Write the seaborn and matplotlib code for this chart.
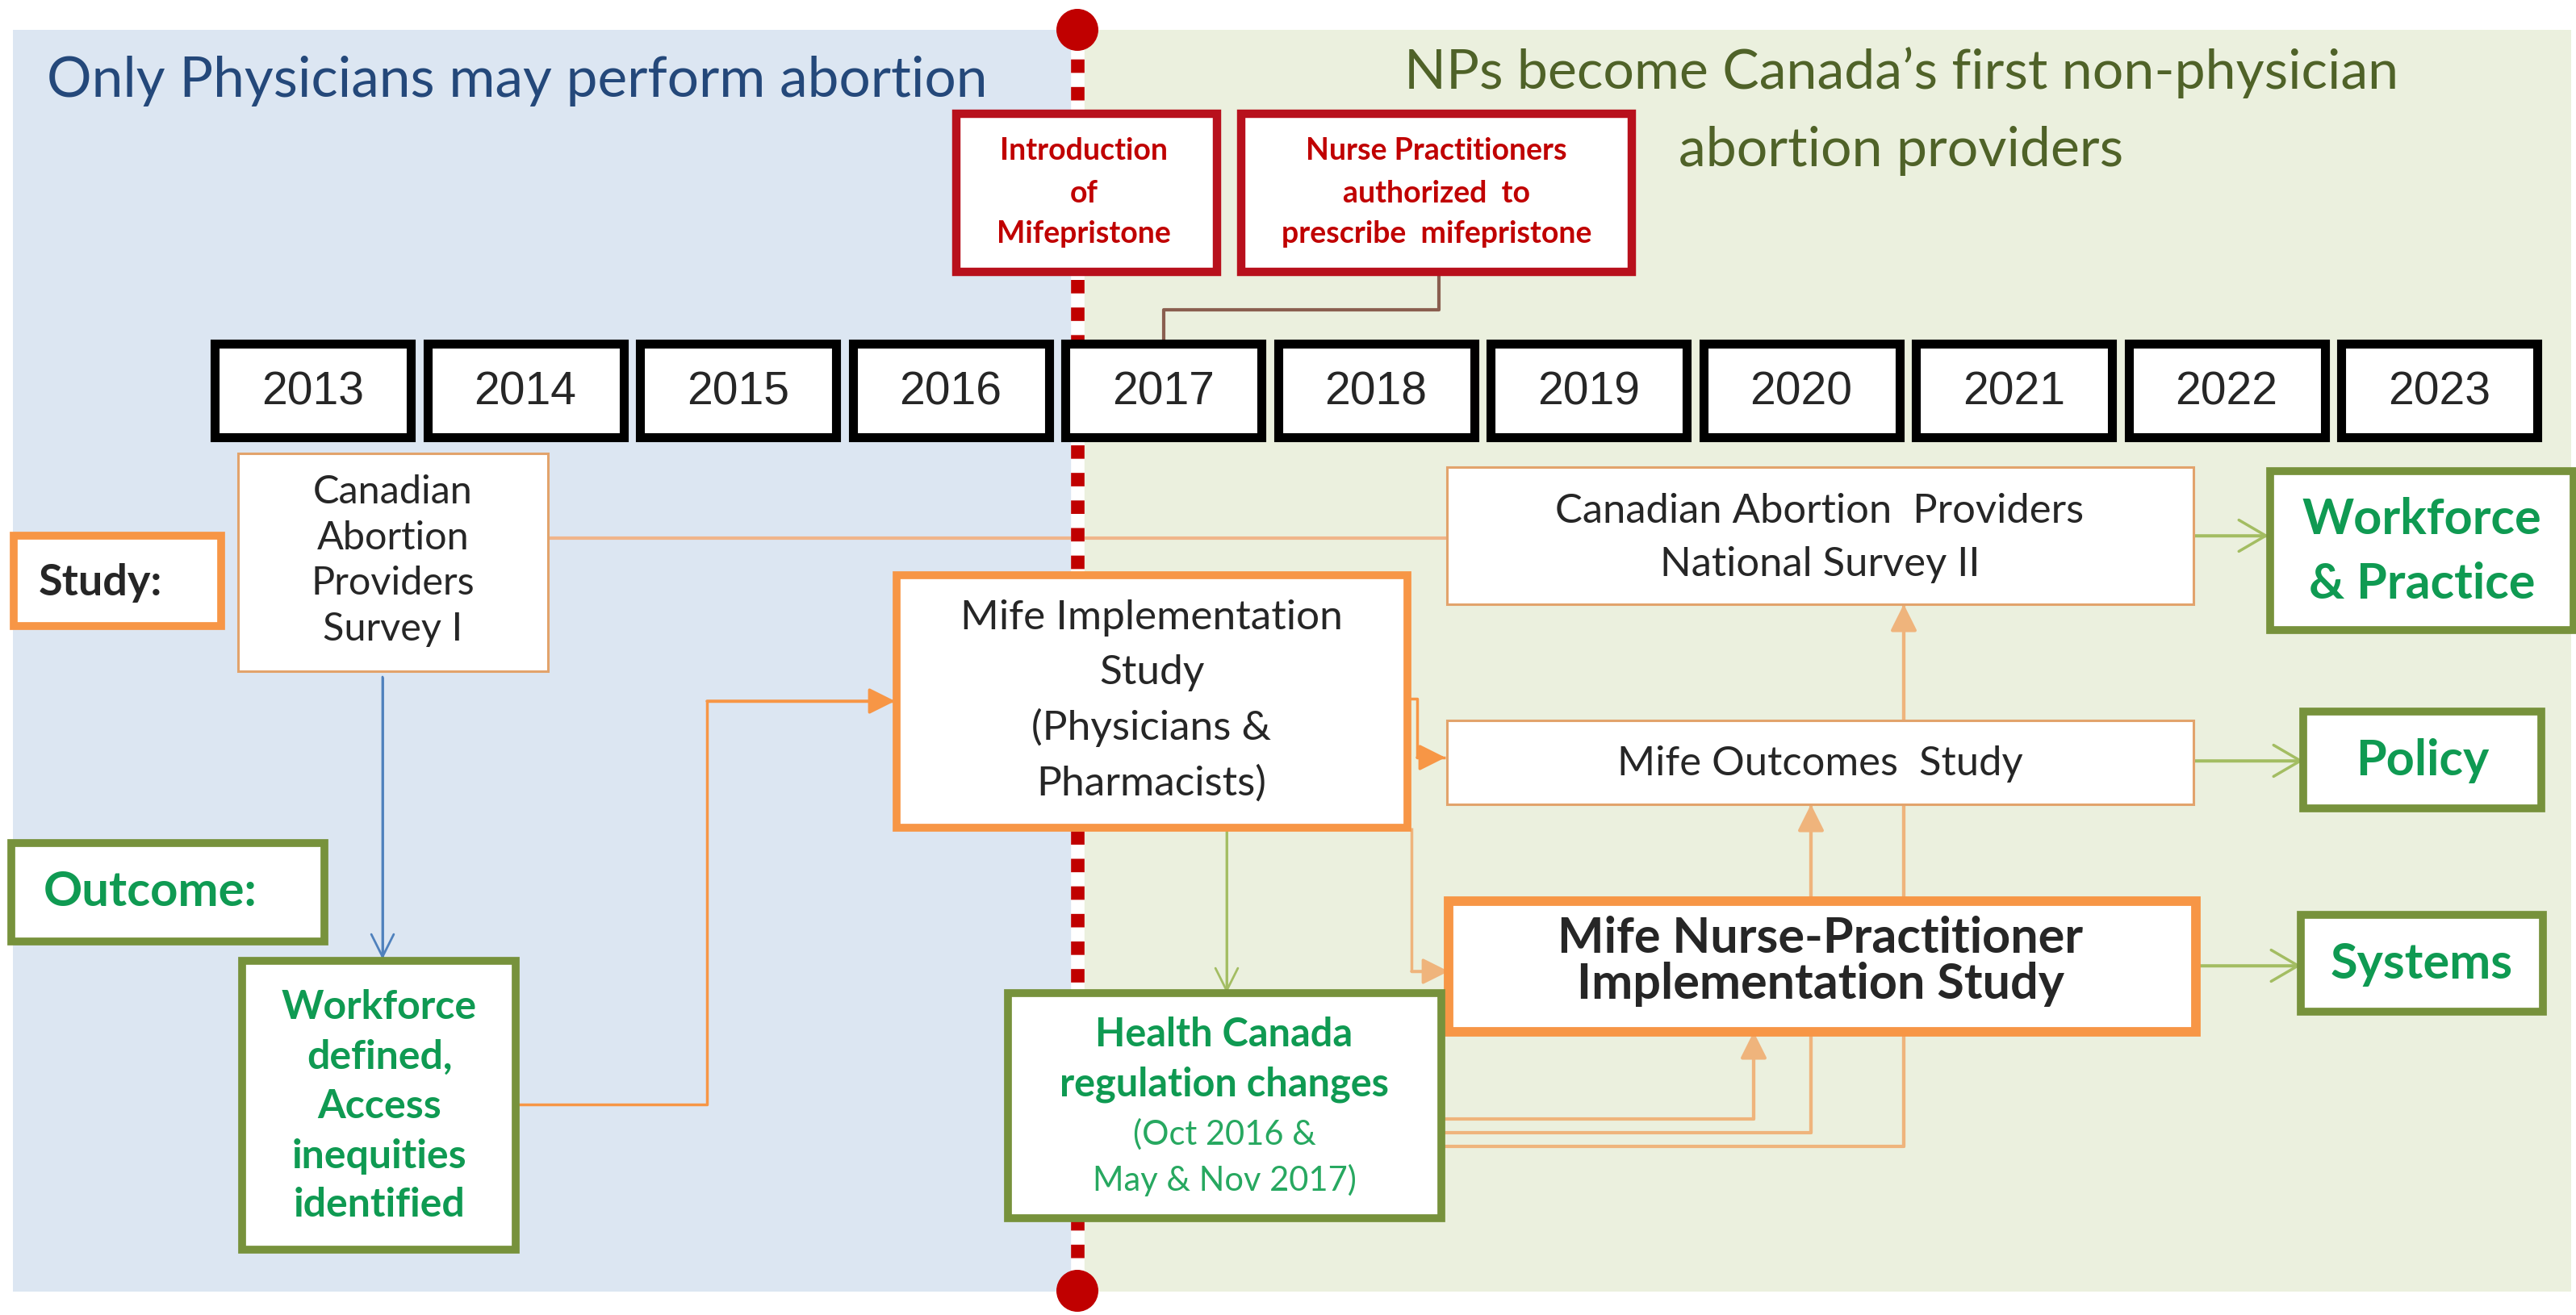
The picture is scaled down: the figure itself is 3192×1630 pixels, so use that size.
import matplotlib
matplotlib.use("Agg")
import matplotlib.pyplot as plt
import seaborn as sns
from matplotlib.patches import Rectangle, Circle

# data: timeline years and the text of every box
years = [2013, 2014, 2015, 2016, 2017, 2018, 2019, 2020, 2021, 2022, 2023]
left_title = "Only Physicians may perform abortion"
right_title = ["NPs become Canada\u2019s first non-physician", "abortion providers"]
event_intro = ["Introduction", "of", "Mifepristone"]
event_np = ["Nurse Practitioners", "authorized  to", "prescribe  mifepristone"]
survey1 = ["Canadian", "Abortion", "Providers", "Survey I"]
survey2 = ["Canadian Abortion  Providers", "National Survey II"]
mife_impl = ["Mife Implementation", "Study", "(Physicians &", "Pharmacists)"]
mife_out = ["Mife Outcomes  Study"]
mife_np = ["Mife Nurse-Practitioner", "Implementation Study"]
workforce_out = ["Workforce", "defined,", "Access", "inequities", "identified"]
health_bold = ["Health Canada", "regulation changes"]
health_dates = ["(Oct 2016 &", "May & Nov 2017)"]
outcomes_right = [["Workforce", "& Practice"], ["Policy"], ["Systems"]]

sns.set_theme(style="white")
plt.rcParams["font.family"] = ["Lato", "DejaVu Sans"]

BLUE_BG = "#dce6f2"
GREEN_BG = "#ebf0de"
RED = "#b8101c"
ORANGE = "#f79646"
ORANGE_THIN = "#e2a36c"
OLIVE = "#77923c"
GREEN_TXT = "#0f9a52"
GREEN_ARROW = "#a3bd62"

fig = plt.figure(figsize=(31.92, 16.31), dpi=100)
ax = fig.add_axes([0, 0, 1, 1])
ax.set_xlim(0, 3192)
ax.set_ylim(1631, 0)
ax.axis("off")


def box(x0, y0, x1, y1, ec, lw, z=3):
    ax.add_patch(Rectangle((x0, y0), x1 - x0, y1 - y0, fc="white", ec=ec,
                           lw=lw, zorder=z, joinstyle="miter"))


def lines(cx, ys, texts, **kw):
    for y, t in zip(ys, texts):
        ax.text(cx, y, t, ha="center", va="center", zorder=5, **kw)


def path(pts, color, lw, head=None, ms=40):
    xs = [p[0] for p in pts]
    ys = [p[1] for p in pts]
    ax.plot(xs, ys, color=color, lw=lw, zorder=1, solid_capstyle="butt")
    if head:
        ax.annotate("", xy=pts[-1], xytext=pts[-2], zorder=2,
                    arrowprops=dict(arrowstyle=head, color=color, lw=lw,
                                    mutation_scale=ms, shrinkA=0, shrinkB=0))


# backgrounds
ax.add_patch(Rectangle((16, 38), 1335 - 16, 1602 - 38, fc=BLUE_BG, ec="none", zorder=0))
ax.add_patch(Rectangle((1335, 38), 3186 - 1335, 1602 - 38, fc=GREEN_BG, ec="none", zorder=0))

ax.text(58, 100, left_title, color="#24487a", fontsize=50,
        ha="left", va="center")
lines(2356, [90, 187], right_title, color="#4f6228", fontsize=49)

# red dashed divider with end dots
ax.plot([1335, 1335], [40, 1600], color="white", lw=12, zorder=1.5)
ax.plot([1335, 1335], [40, 1600], color="#c00000", lw=12, zorder=1.6,
        linestyle=(0, (1.0, 1.05)), dash_capstyle="butt")
for yc in [38, 1601]:
    ax.add_patch(Circle((1335, yc), 26, fc="#c00000", ec="none", zorder=6))

# events
box(1185, 142, 1508, 338, RED, 7.5)
lines(1343, [187, 240, 290], event_intro, color="#c00000", fontsize=27, fontweight="bold")
box(1538, 142, 2022, 338, RED, 7.5)
lines(1780, [187, 240, 290], event_np, color="#c00000", fontsize=27, fontweight="bold")
path([(1783, 338), (1783, 385), (1442, 385), (1442, 427)], "#8a5f50", 3)

# year row
x_start, pitch, width = 266, 263.5, 243
for i, yr in enumerate(years):
    x0 = x_start + i * pitch
    box(x0, 427, x0 + width, 543, "black", 8)
    ax.text(x0 + width / 2, 487, str(yr), ha="center", va="center",
            fontsize=41, family="Liberation Sans", zorder=5)

# row labels
box(17, 665, 274, 777, ORANGE, 7)
ax.text(48, 723, "Study:", fontsize=39, fontweight="bold", ha="left", va="center", zorder=5)
box(14, 1046, 402, 1168, OLIVE, 7)
ax.text(54, 1106, "Outcome:", fontsize=43, fontweight="bold", color=GREEN_TXT,
        ha="left", va="center", zorder=5)

# connectors (drawn under the boxes)
path([(474, 840), (474, 1190)], "#4f81bd", 2, head="->,head_length=0.5,head_width=0.25")
path([(639, 1370), (876, 1370), (876, 870), (1109, 870)], ORANGE, 2.5,
     head="-|>,head_length=0.5,head_width=0.25")
path([(679, 668), (1793, 668)], "#f0b58a", 3)
path([(1744, 867), (1756, 867), (1756, 940), (1791, 940)], ORANGE, 2.5,
     head="-|>,head_length=0.5,head_width=0.25")
path([(1749, 1027), (1749, 1205), (1795, 1205)], "#efb47c", 2.5,
     head="-|>,head_length=0.5,head_width=0.25")
path([(1520, 1027), (1520, 1232)], GREEN_ARROW, 2, head="->,head_length=0.5,head_width=0.25")
path([(1786, 1388), (2173, 1388), (2173, 1280)], "#efb47c", 3,
     head="-|>,head_length=0.5,head_width=0.25")
path([(1786, 1405), (2244, 1405), (2244, 998)], "#efb47c", 3,
     head="-|>,head_length=0.5,head_width=0.25")
path([(1786, 1422), (2359, 1422), (2359, 750)], "#efb47c", 3,
     head="-|>,head_length=0.5,head_width=0.25")
path([(2718, 665), (2811, 665)], GREEN_ARROW, 2.5, head="->,head_length=0.6,head_width=0.35")
path([(2718, 944), (2854, 944)], GREEN_ARROW, 2.5, head="->,head_length=0.6,head_width=0.35")
path([(2721, 1198), (2851, 1198)], GREEN_ARROW, 2.5, head="->,head_length=0.6,head_width=0.35")

# study boxes
box(295, 563, 679, 833, ORANGE_THIN, 2.2)
lines(487, [610, 667, 723, 780], survey1, fontsize=35)
box(1111, 714, 1744, 1027, ORANGE, 7)
lines(1427, [766, 834, 902, 971], mife_impl, fontsize=37)
box(1793, 580, 2718, 750, ORANGE_THIN, 2.2)
lines(2255, [634, 700], survey2, fontsize=36.5)
box(1793, 894, 2718, 998, ORANGE_THIN, 2.2)
lines(2255, [947], mife_out, fontsize=36.5)
box(1795, 1118, 2721, 1280, ORANGE, 8.5)
lines(2256, [1163, 1220], mife_np, fontsize=44, fontweight="bold")

# outcome boxes
box(300, 1192, 639, 1550, OLIVE, 7)
lines(470, [1249, 1310, 1372, 1434, 1494], workforce_out, color=GREEN_TXT,
      fontsize=36, fontweight="bold")
box(1249, 1232, 1786, 1511, OLIVE, 7)
lines(1517, [1283, 1344], health_bold, color=GREEN_TXT, fontsize=35, fontweight="bold")
lines(1517, [1406, 1463], health_dates, color="#27a860", fontsize=30)

right_boxes = [(2813, 585, 3189, 782), (2854, 883, 3149, 1003), (2851, 1135, 3151, 1255)]
right_ys = [[644, 724], [943], [1195]]
for (x0, y0, x1, y1), ys, txt in zip(right_boxes, right_ys, outcomes_right):
    box(x0, y0, x1, y1, OLIVE, 7)
    lines((x0 + x1) / 2, ys, txt, color=GREEN_TXT, fontsize=44, fontweight="bold")

fig.savefig("out.png", dpi=100, facecolor="white")
